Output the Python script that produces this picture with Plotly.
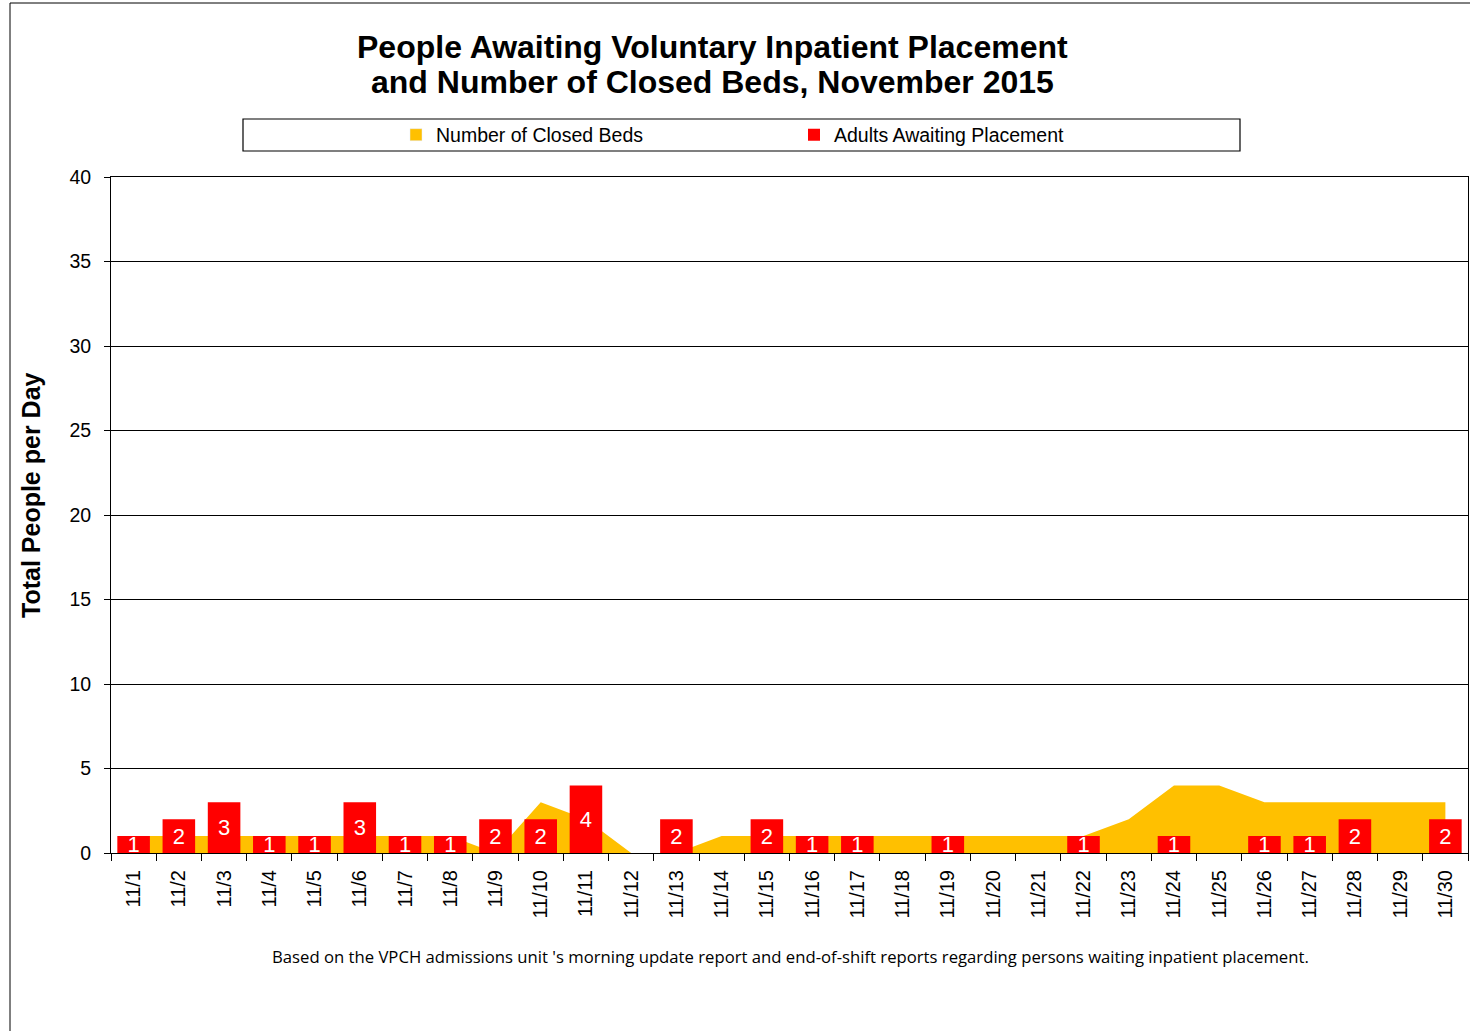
import plotly.graph_objects as go

dates = ["11/1","11/2","11/3","11/4","11/5","11/6","11/7","11/8","11/9","11/10",
         "11/11","11/12","11/13","11/14","11/15","11/16","11/17","11/18","11/19","11/20",
         "11/21","11/22","11/23","11/24","11/25","11/26","11/27","11/28","11/29","11/30"]
closed_beds = [1,1,1,1,1,1,1,1,0,3, 2,0,0,1,1,1,1,1,1,1, 1,1,2,4,4,3,3,3,3,3]
adults_waiting = [1,2,3,1,1,3,1,1,2,2, 4,0,2,0,2,1,1,0,1,0, 0,1,0,1,0,1,1,2,0,2]

title_lines = ["People Awaiting Voluntary Inpatient Placement",
               "and Number of Closed Beds, November 2015"]
y_title = "Total People per Day"
footnote = ("Based on the VPCH admissions unit 's morning update report and end-of-shift "
            "reports regarding persons waiting inpatient placement.")

bar_text = [str(v) if v else "" for v in adults_waiting]
bar_vals = [v if v else None for v in adults_waiting]

W, H = 1470, 1031
L, R, T, B = 111, 2, 177, 178
PW, PH = W - L - R, H - T - B
FONT = "Arial, Liberation Sans, sans-serif"

def px(x):
    return (x - L) / PW

def py(y):
    return (H - B - y) / PH

fig = go.Figure()
# area (drawn on base subplot)
fig.add_trace(go.Scatter(
    x=dates, y=closed_beds, name="Number of Closed Beds",
    mode="none", fill="tozeroy", fillcolor="#FFC000",
    showlegend=False, xaxis="x", yaxis="y", hoverinfo="skip",
))
# legend-only swatch for the area series
fig.add_trace(go.Bar(
    x=[None], y=[None], name="Number of Closed Beds",
    marker=dict(color="#FFC000"), xaxis="x", yaxis="y", showlegend=True,
))
# bars on overlaying subplot so they sit on top of the area
fig.add_trace(go.Bar(
    x=dates, y=bar_vals, name="Adults Awaiting Placement",
    marker=dict(color="#FF0000", line=dict(width=0)), width=0.72,
    text=bar_text, textposition="inside", insidetextanchor="middle",
    textangle=0, constraintext="none",
    textfont=dict(color="white", size=22, family=FONT),
    xaxis="x2", yaxis="y2",
))

annotations = [
    dict(text="<b>" + title_lines[0] + "</b>", xref="paper", yref="paper",
         x=px(712), y=py(47), xanchor="center", yanchor="middle", showarrow=False,
         font=dict(size=32, family=FONT, color="black")),
    dict(text="<b>" + title_lines[1] + "</b>", xref="paper", yref="paper",
         x=px(712), y=py(82), xanchor="center", yanchor="middle", showarrow=False,
         font=dict(size=32, family=FONT, color="black")),
    dict(text="<b>" + y_title + "</b>", xref="paper", yref="paper",
         x=px(31), y=py(495), xanchor="center", yanchor="middle", showarrow=False,
         textangle=-90, font=dict(size=25, family=FONT, color="black")),
    dict(text=footnote, xref="paper", yref="paper", x=px(790), y=py(956),
         xanchor="center", yanchor="middle", showarrow=False,
         font=dict(size=16.7, family="Open Sans, Liberation Sans", color="black")),
]

fig.update_layout(
    width=W, height=H,
    margin=dict(l=L, r=R, t=T, b=B),
    paper_bgcolor="white", plot_bgcolor="white",
    font=dict(family=FONT, color="black"),
    showlegend=True,
    barmode="overlay",
    hovermode=False,
    legend=dict(
        orientation="h", x=px(396), xanchor="left", y=py(135), yanchor="middle",
        font=dict(size=19.5), entrywidth=353, bgcolor="rgba(0,0,0,0)",
        traceorder="normal",
    ),
    shapes=[
        dict(type="rect", xref="paper", yref="paper",
             x0=px(243), x1=px(1240), y0=py(151), y1=py(119),
             line=dict(color="black", width=1.2), fillcolor="rgba(0,0,0,0)"),
        dict(type="line", xref="paper", yref="paper",
             x0=px(10), x1=px(10), y0=py(3), y1=py(1031),
             line=dict(color="black", width=1)),
        dict(type="line", xref="paper", yref="paper",
             x0=px(10), x1=px(1470), y0=py(3), y1=py(3),
             line=dict(color="black", width=1)),
    ],
    annotations=annotations,
    xaxis=dict(
        type="category", categoryorder="array", categoryarray=dates,
        tickson="boundaries", ticks="outside", ticklen=7, tickcolor="black",
        showline=True, linecolor="black", linewidth=1, mirror=True,
        tickangle=-90, tickfont=dict(size=20), showgrid=False,
        ticklabelstandoff=8,
    ),
    xaxis2=dict(
        type="category", categoryorder="array", categoryarray=dates,
        overlaying="x", matches="x", visible=False,
    ),
    yaxis=dict(
        range=[0, 40], dtick=5, ticks="outside", ticklen=6, tickcolor="black",
        showline=True, linecolor="black", linewidth=1, mirror=True,
        gridcolor="black", gridwidth=1, zeroline=False,
        tickfont=dict(size=19.5), ticklabelstandoff=9,
    ),
    yaxis2=dict(
        range=[0, 40], overlaying="y", visible=False,
    ),
)

fig.write_html("out.html", config={"displayModeBar": False},
               post_script="document.body.style.margin='0';")
